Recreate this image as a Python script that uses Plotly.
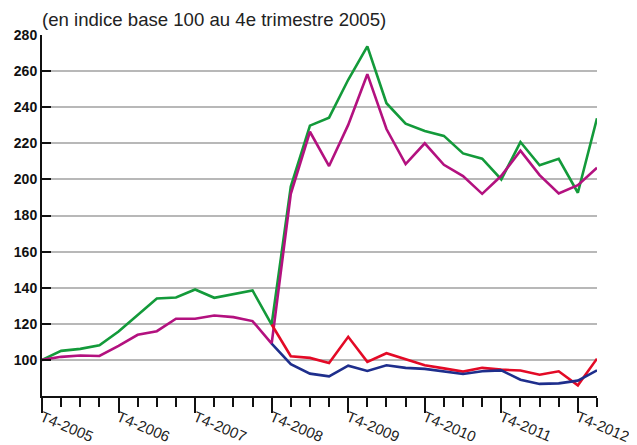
import plotly.graph_objects as go

quarters = list(range(30))  # T4-2005 ... T1-2013
tick_pos = [0, 4, 8, 12, 16, 20, 24, 28]
tick_labels = ["T4-2005", "T4-2006", "T4-2007", "T4-2008", "T4-2009", "T4-2010", "T4-2011", "T4-2012"]
y_ticks = [100, 120, 140, 160, 180, 200, 220, 240, 260, 280]

green = [100, 105, 106.1, 108.1, 115.7, 124.8, 134, 134.6, 139, 134.4, 136.3, 138.5, 119.6,
         196, 229.8, 234.2, 255.2, 273.7, 242.2, 230.9, 226.8, 224.1, 214.4, 211.5, 200,
         220.7, 207.8, 211.4, 192.6, 233.9]
magenta = [100, 101.7, 102.4, 102.2, 107.8, 113.9, 115.9, 122.8, 122.8, 124.6, 123.7, 121.5, 109,
           192, 226.4, 207.4, 230.2, 258.3, 227.9, 208.5, 220, 208.1, 201.8, 192, 202,
           215.9, 202.4, 192.2, 196.8, 206.5]
red_x = quarters[12:]
red = [119.6, 102, 101.1, 98.3, 112.8, 98.9, 103.7, 100.2, 97, 95.3, 93.5, 95.6, 94.6,
       94.1, 91.8, 93.7, 85.9, 100.7]
blue_x = quarters[12:]
blue = [109, 97.6, 92.4, 90.9, 96.8, 93.9, 97, 95.6, 95, 93.7, 92.2, 93.7, 94.2,
        89, 86.7, 87, 88.5, 94.2]

fig = go.Figure()
lw = 2.6
fig.add_trace(go.Scatter(x=quarters, y=green, mode="lines", line=dict(color="#139a3a", width=lw)))
fig.add_trace(go.Scatter(x=quarters, y=magenta, mode="lines", line=dict(color="#b3117f", width=lw)))
fig.add_trace(go.Scatter(x=red_x, y=red, mode="lines", line=dict(color="#e30a26", width=lw)))
fig.add_trace(go.Scatter(x=blue_x, y=blue, mode="lines", line=dict(color="#1e2e8c", width=lw)))

# page body has an 8px margin: figure occupies (8..637, 8..445)
fig.update_layout(
    width=629, height=437,
    margin=dict(l=34, r=40, t=27, b=49),
    paper_bgcolor="white", plot_bgcolor="white",
    showlegend=False,
    font=dict(family="Liberation Sans, Arial, sans-serif", color="#111111"),
    annotations=[dict(text="(en indice base 100 au 4e trimestre 2005)", xref="paper", yref="paper",
                      x=0, y=1, xanchor="left", yanchor="bottom", yshift=3, xshift=-2,
                      showarrow=False, font=dict(size=18.6, color="#222222"))],
)
fig.update_xaxes(
    range=[0, 29], tickvals=tick_pos, ticktext=tick_labels, tickangle=23,
    showgrid=False, zeroline=False, automargin=False,
    showline=True, linecolor="#111111", linewidth=2,
    ticks="outside", ticklen=15, tickwidth=2, tickcolor="#111111",
    ticklabelstandoff=-10,
    tickfont=dict(size=15, color="#222222"),
    minor=dict(dtick=1, tick0=0, ticks="outside", ticklen=9, tickwidth=2, tickcolor="#111111", showgrid=False),
)
fig.update_yaxes(
    range=[80, 280], tickvals=y_ticks, automargin=False,
    ticktext=["<b>%d</b>" % v for v in y_ticks],
    showgrid=True, gridcolor="#b8b8b8", gridwidth=1.5, zeroline=False,
    showline=True, linecolor="#111111", linewidth=2,
    ticks="inside", ticklen=9, tickwidth=2, tickcolor="#111111",
    tickfont=dict(size=14, color="#111111"),
)
fig.write_html("out.html")
